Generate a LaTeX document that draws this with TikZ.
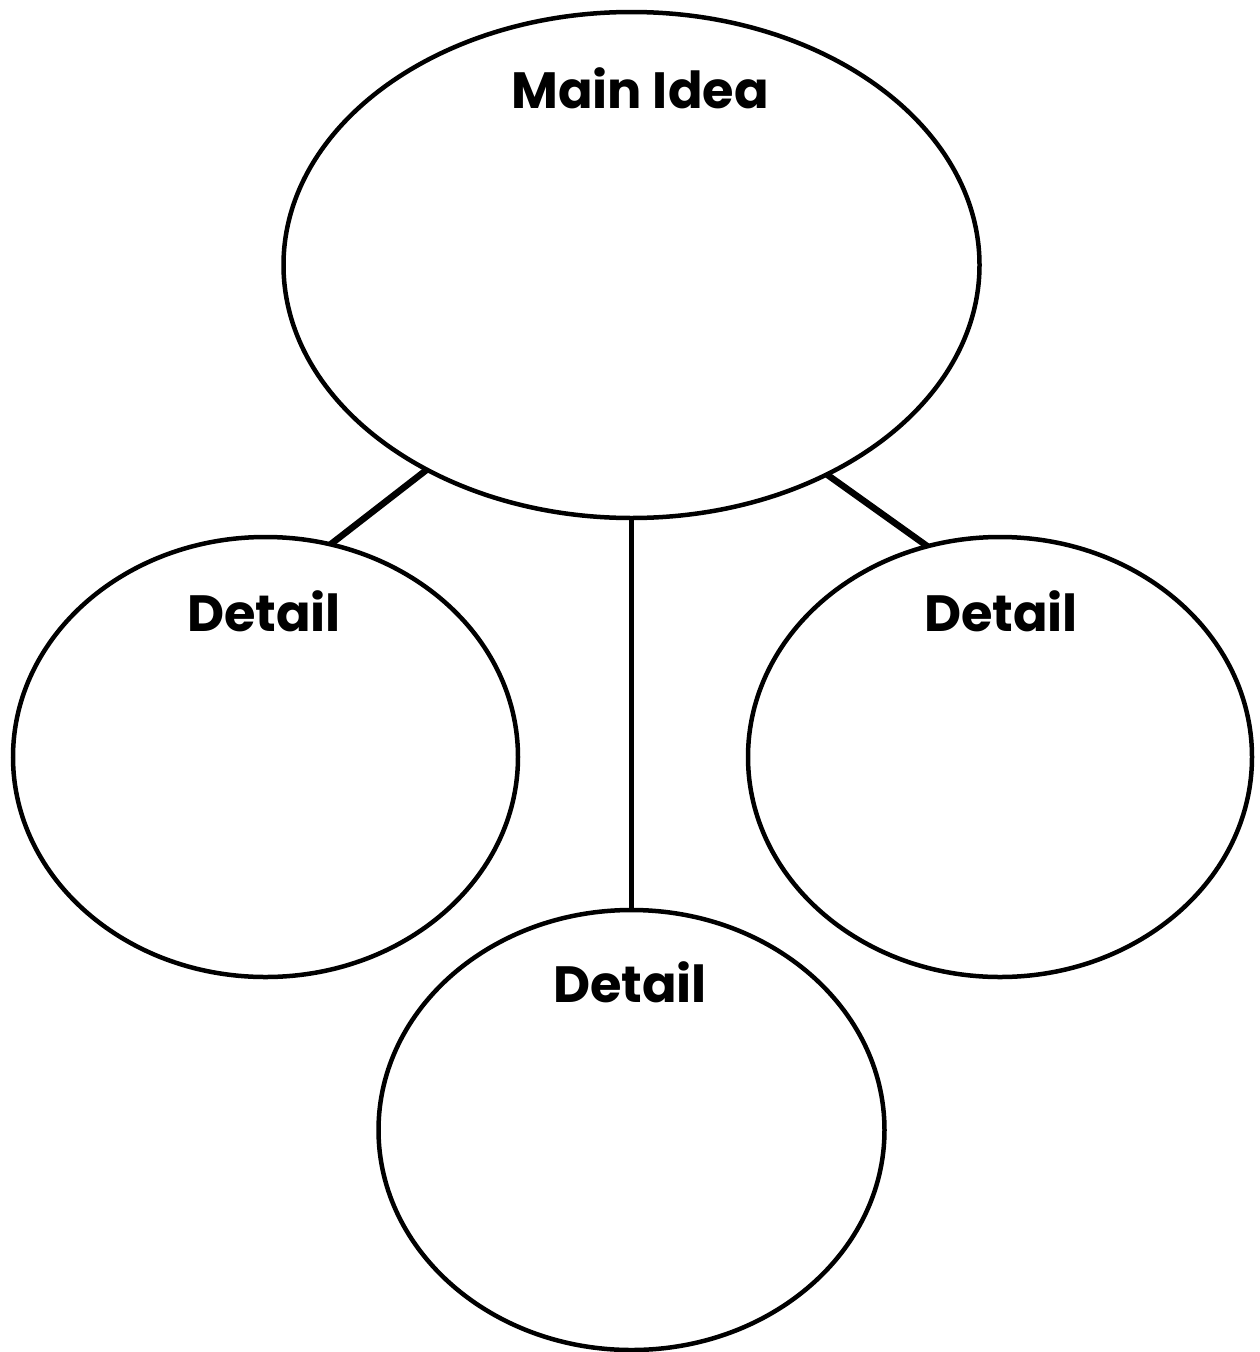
\documentclass[tikz,border=0pt]{standalone}
\usepackage{fontspec}
\setmainfont{Poppins}
\usetikzlibrary{shapes.geometric}
\begin{document}
\begin{tikzpicture}[x=1pt,y=-1pt,
  bubble/.style={ellipse,draw,line width=4.5pt,inner sep=0pt,outer sep=0pt},
  lbl/.style={font=\fontsize{51}{60}\selectfont\bfseries,inner sep=0pt},
  link/.style={line width=6.5pt},
  stem/.style={line width=4.5pt}]
\useasboundingbox (0,0) rectangle (1260,1352);
\node[bubble,minimum width=696pt,minimum height=506pt] (main) at (631.5,265) {};
\node[bubble,minimum width=505pt,minimum height=440pt] (left) at (265.5,757) {};
\node[bubble,minimum width=504pt,minimum height=440pt] (right) at (1000,757) {};
\node[bubble,minimum width=506pt,minimum height=440pt] (bottom) at (631.5,1130) {};
\node[lbl] (tmain) at (640,88) {Main Idea};
\node[lbl] (tleft) at (264,611) {Detail};
\node[lbl] (tright) at (1001,611) {Detail};
\node[lbl] (tbottom) at (630,982) {Detail};
\draw[link] (main.225) -- (left.73.6);
\draw[link] (main.313.2) -- (right.109.3);
\draw[stem] (main.south) -- (bottom.north);
\end{tikzpicture}
\end{document}
